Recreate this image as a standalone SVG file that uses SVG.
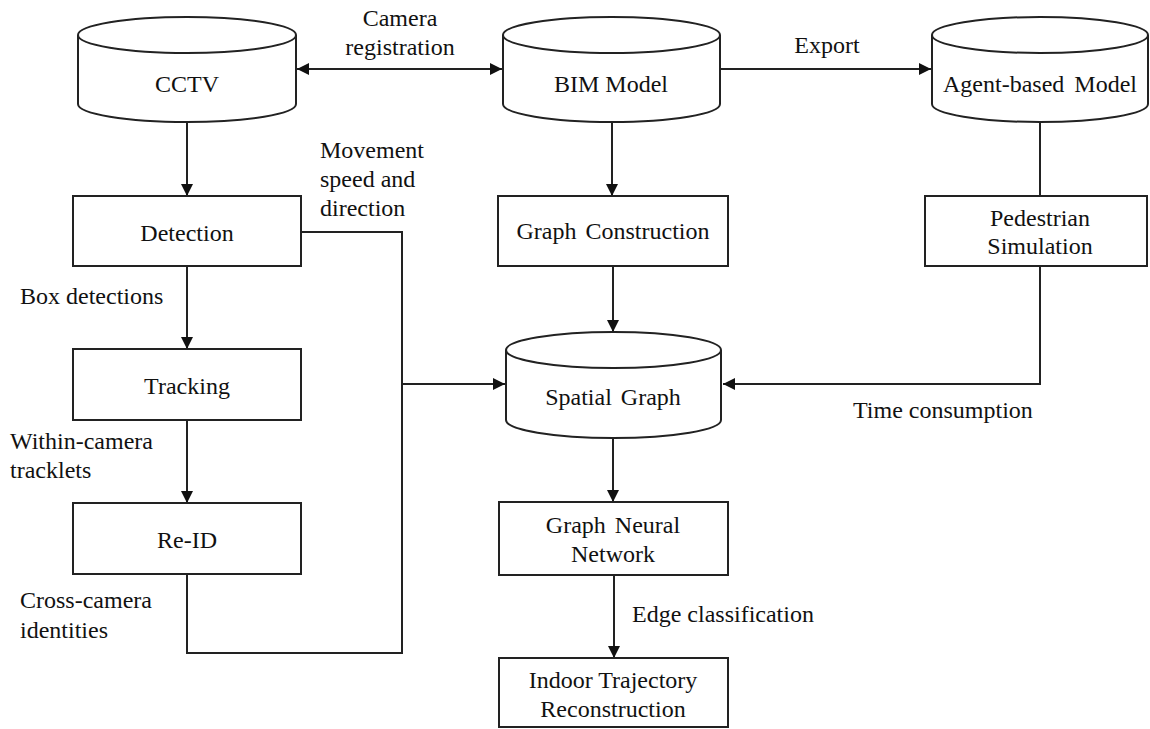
<svg xmlns="http://www.w3.org/2000/svg" width="1150" height="729" viewBox="0 0 1150 729">
<style>
.sh{fill:#fff;stroke:#222;stroke-width:2}
.ln{fill:none;stroke:#222;stroke-width:2}
text{font-family:'Liberation Serif','Times New Roman',Times,'DejaVu Serif',serif;font-size:24px;fill:#111}
.c{text-anchor:middle}
</style>
<defs>
<marker id="ah" viewBox="0 0 10 10" refX="10" refY="5" markerWidth="12" markerHeight="12" markerUnits="userSpaceOnUse" orient="auto-start-reverse">
<path d="M0,0 L10,5 L0,10 Z" fill="#111"/>
</marker>
</defs>
<rect width="1150" height="729" fill="#fff"/>
<g id="connectors">
<line class="ln" x1="297" y1="69" x2="502" y2="69" marker-start="url(#ah)" marker-end="url(#ah)"/>
<line class="ln" x1="720" y1="69" x2="931" y2="69" marker-end="url(#ah)"/>
<line class="ln" x1="187" y1="122" x2="187" y2="196" marker-end="url(#ah)"/>
<line class="ln" x1="612" y1="122" x2="612" y2="196" marker-end="url(#ah)"/>
<line class="ln" x1="1040" y1="122" x2="1040" y2="196"/>
<polyline class="ln" points="1040,266 1040,384 723,384" marker-end="url(#ah)"/>
<line class="ln" x1="613" y1="266" x2="613" y2="332" marker-end="url(#ah)"/>
<polyline class="ln" points="301,232 402,232 402,653 187,653 187,574"/>
<line class="ln" x1="402" y1="384" x2="505" y2="384" marker-end="url(#ah)"/>
<line class="ln" x1="187" y1="266" x2="187" y2="349" marker-end="url(#ah)"/>
<line class="ln" x1="187" y1="420" x2="187" y2="503" marker-end="url(#ah)"/>
<line class="ln" x1="613" y1="438" x2="613" y2="502" marker-end="url(#ah)"/>
<line class="ln" x1="614" y1="575" x2="614" y2="658" marker-end="url(#ah)"/>
<text class="c" x="400" y="26">Camera</text>
<text class="c" x="400" y="55">registration</text>
<text class="c" x="827" y="53">Export</text>
<text x="320" y="158">Movement</text>
<text x="320" y="187">speed and</text>
<text x="320" y="216">direction</text>
<text x="20" y="304">Box detections</text>
<text x="10" y="449">Within-camera</text>
<text x="10" y="478">tracklets</text>
<text x="20" y="608">Cross-camera</text>
<text x="20" y="638">identities</text>
<text x="853" y="418">Time consumption</text>
<text x="632" y="622">Edge classification</text>
</g>
<g id="cctv">
<path class="sh" d="M78,35 L78,104 A109,18 0 0 0 296,104 L296,35"/>
<ellipse class="sh" cx="187" cy="35" rx="109" ry="18"/>
<text class="c" x="187" y="92">CCTV</text>
</g>
<g id="bim">
<path class="sh" d="M503,35 L503,104 A108.5,18 0 0 0 720,104 L720,35"/>
<ellipse class="sh" cx="611.5" cy="35" rx="108.5" ry="18"/>
<text class="c" x="611" y="92">BIM Model</text>
</g>
<g id="agent">
<path class="sh" d="M932,35 L932,104 A108,18 0 0 0 1148,104 L1148,35"/>
<ellipse class="sh" cx="1040" cy="35" rx="108" ry="18"/>
<text class="c" x="1040" y="92" word-spacing="4">Agent-based Model</text>
</g>
<g id="detection">
<rect class="sh" x="73" y="196" width="228" height="70"/>
<text class="c" x="187" y="241">Detection</text>
</g>
<g id="tracking">
<rect class="sh" x="73" y="349" width="228" height="71"/>
<text class="c" x="187" y="394">Tracking</text>
</g>
<g id="reid">
<rect class="sh" x="73" y="503" width="228" height="71"/>
<text class="c" x="187" y="548">Re-ID</text>
</g>
<g id="graph-construction">
<rect class="sh" x="498" y="196" width="230" height="70"/>
<text class="c" x="613" y="239" word-spacing="3">Graph Construction</text>
</g>
<g id="pedestrian">
<rect class="sh" x="925" y="196" width="222" height="70"/>
<text class="c" x="1040" y="226">Pedestrian</text>
<text class="c" x="1040" y="254">Simulation</text>
</g>
<g id="spatial-graph">
<path class="sh" d="M506,350 L506,420 A107.5,18 0 0 0 721,420 L721,350"/>
<ellipse class="sh" cx="613.5" cy="350" rx="107.5" ry="18"/>
<text class="c" x="613" y="405" word-spacing="3">Spatial Graph</text>
</g>
<g id="gnn">
<rect class="sh" x="499" y="502" width="229" height="73"/>
<text class="c" x="613" y="533" word-spacing="3">Graph Neural</text>
<text class="c" x="613" y="562">Network</text>
</g>
<g id="indoor">
<rect class="sh" x="499" y="658" width="229" height="69"/>
<text class="c" x="613" y="688">Indoor Trajectory</text>
<text class="c" x="613" y="717">Reconstruction</text>
</g>
</svg>
